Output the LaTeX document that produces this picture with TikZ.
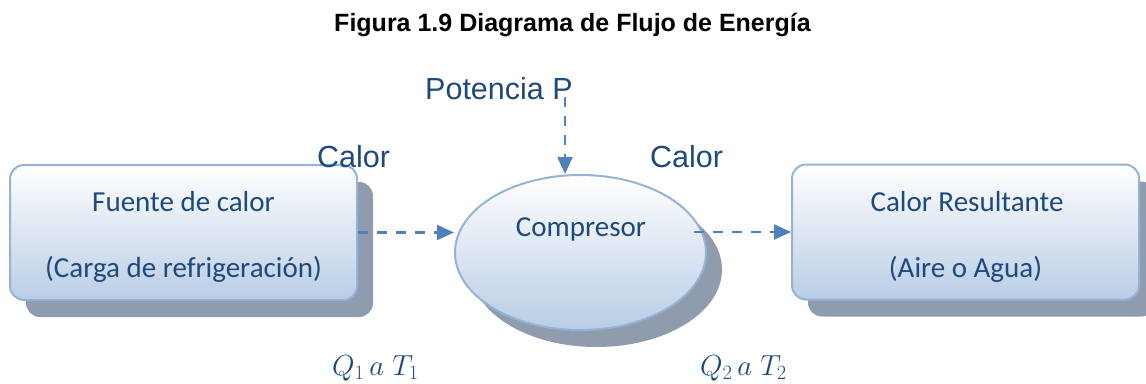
\RequirePackage{fix-cm}
\documentclass[tikz,border=0pt]{standalone}
\usepackage{fontspec}
\setmainfont{Liberation Sans}
\newfontfamily\boxfont{Carlito}
\usetikzlibrary{shapes.geometric,shadows,arrows.meta}
\definecolor{txtblue}{RGB}{31,73,125}
\definecolor{arrblue}{RGB}{79,129,189}
\definecolor{edgeblue}{RGB}{149,179,215}
\definecolor{fillblue}{RGB}{185,205,229}
\definecolor{shadowgray}{RGB}{142,156,174}
\tikzset{
  boxshape/.style={draw=edgeblue, line width=2pt, top color=white, bottom color=fillblue,
    drop shadow={shadow xshift=16pt, shadow yshift=-17pt, opacity=1, fill=shadowgray}},
  srcbox/.style={boxshape, rectangle, rounded corners=14pt, minimum width=347pt, minimum height=135pt, inner sep=0pt},
  compshape/.style={boxshape, ellipse, minimum width=251pt, minimum height=155pt, inner sep=0pt},
  boxtext/.style={font=\boxfont\fontsize{29}{34}\selectfont, text=txtblue, anchor=base, inner sep=0pt},
  bigtext/.style={font=\fontsize{30.5}{36}\selectfont, text=txtblue, anchor=base west, inner sep=0pt},
  mathlbl/.style={font=\fontsize{29}{34}\selectfont, text=txtblue, anchor=base west, inner sep=0pt},
  flow/.style={draw=arrblue, line width=2.3pt, dash pattern=on 10pt off 9pt,
    -{Triangle[length=17pt,width=15pt]}, color=arrblue},
}
\begin{document}
\begin{tikzpicture}[x=1pt,y=-1pt]
\useasboundingbox (0,0) rectangle (1146,383);
% title
\node[font=\bfseries\fontsize{25}{30}\selectfont, anchor=base, inner sep=0pt] (title) at (572.5,31) {Figura 1.9 Diagrama de Flujo de Energía};
% boxes
\node[srcbox] (fuente) at (183.5,232.5) {};
\node[srcbox] (result) at (965.5,232) {};
\node[compshape] (comp) at (580.5,252.5) {};
% texts in boxes
\node[boxtext] (f1) at (183.5,211) {Fuente de calor};
\node[boxtext] (f2) at (183.5,277) {(Carga de refrigeración)};
\node[boxtext] (c1) at (581,236) {Compresor};
\node[boxtext] (r1) at (967,211) {Calor Resultante};
\node[boxtext] (r2) at (965.5,277) {(Aire o Agua)};
% labels
\node[bigtext] (pot) at (425,99) {Potencia P};
\node[bigtext] (calL) at (317,167) {Calor};
\node[bigtext] (calR) at (650,167) {Calor};
\node[mathlbl] (q1) at (332,375) {$Q_1\,a\;T_1$};
\node[mathlbl] (q2) at (700,375) {$Q_2\,a\;T_2$};
% connectors
\coordinate (ptop) at (565,97);
\draw[flow] (fuente.east) -- (fuente.east -| comp.west);
\draw[flow] ([xshift=-13pt,yshift=20.5pt]comp.east) -- (result.west);
\draw[flow] (ptop) -- (ptop |- comp.north);
\end{tikzpicture}
\end{document}
